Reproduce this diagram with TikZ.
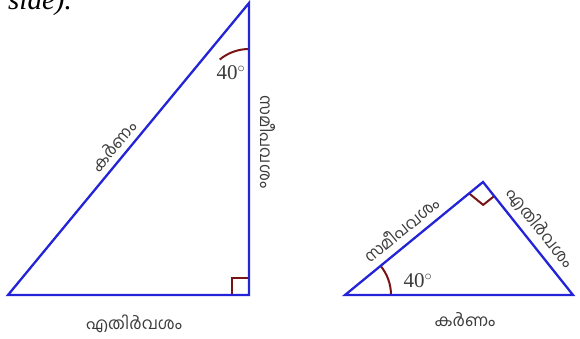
\documentclass[tikz,border=0pt]{standalone}
\usepackage{fontspec}
\usetikzlibrary{calc}
\setmainfont{Liberation Serif}
\newfontfamily\mlfont[Script=Malayalam]{Hind Kochi}
\definecolor{triblue}{RGB}{35,35,215}
\definecolor{angred}{RGB}{120,20,20}
\definecolor{txtgray}{RGB}{60,60,60}
\tikzset{
  side/.style={draw=triblue, line width=2.3pt, line join=miter},
  angmark/.style={draw=angred, line width=2pt},
  mltext/.style={font=\mlfont\fontsize{16.5}{18}\selectfont, text=txtgray, inner sep=0pt},
  degtext/.style={font=\fontsize{21}{24}\selectfont, text=txtgray, inner sep=0pt}
}
\begin{document}
\begin{tikzpicture}[x=1pt,y=-1pt]
\useasboundingbox (0,0) rectangle (580,338);
\begin{scope}
\clip (0,0) rectangle (580,338);
\node[anchor=base west, font=\itshape\fontsize{29}{32}\selectfont, inner sep=0pt] (hdr) at (8,9) {side).};
\end{scope}
% left triangle
\coordinate (A) at (8,295);
\coordinate (B) at (249,295);
\coordinate (C) at (249,3);
\draw[angmark] (232,295) -- (232,278) -- (249,278);
\draw[angmark] ($(C)+(0,46)$) arc[start angle=-90, end angle=-129.5, radius=46];
\draw[side] (A) -- (B) -- (C) -- cycle;
\node[mltext, rotate=50.5] (hypL) at (113,146) {കർണം};
\node[mltext, rotate=-90] (adjL) at (268,142) {സമീപവശം};
\node[mltext] (oppL) at (134,324) {എതിർവശം};
\node[degtext] (degL) at (231,73) {40$^\circ$};
% right triangle
\coordinate (P) at (345,295);
\coordinate (Q) at (573,295);
\coordinate (R) at (483,182);
\draw[angmark] ($(R)!18pt!(P)$) -- ++(14.1,11.5) -- ($(R)!18pt!(Q)$);
\draw[angmark] ($(P)+(46,0)$) arc[start angle=0, end angle=-39.3, radius=46];
\draw[side] (P) -- (Q) -- (R) -- cycle;
\node[mltext, rotate=39.3] (adjR) at (401,229) {സമീപവശം};
\node[mltext, rotate=-51.5] (oppR) at (540,228) {എതിർവശം};
\node[mltext] (hypR) at (465,320) {കർണം};
\node[degtext] (degR) at (418,281) {40$^\circ$};
\end{tikzpicture}
\end{document}
